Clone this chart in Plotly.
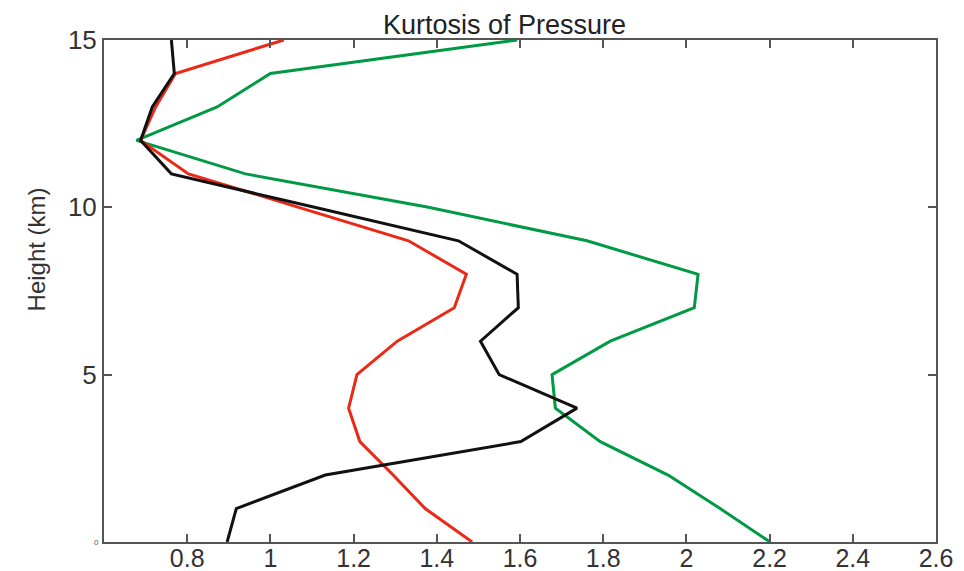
import plotly.graph_objects as go

# Height levels (km) and kurtosis profiles for the three runs
height_km = [0, 1, 2, 3, 4, 5, 6, 7, 8, 9, 10, 11, 12, 13, 14, 15]

kurt_black = [0.896, 0.918, 1.132, 1.602, 1.737, 1.550, 1.505, 1.596,
              1.593, 1.452, 1.106, 0.762, 0.688, 0.716, 0.769, 0.762]
kurt_red = [1.485, 1.372, 1.295, 1.215, 1.188, 1.208, 1.305, 1.442,
            1.471, 1.332, 1.068, 0.803, 0.688, 0.724, 0.772, 1.032]
kurt_green = [2.201, 2.081, 1.956, 1.793, 1.685, 1.677, 1.817, 2.019,
              2.028, 1.761, 1.380, 0.940, 0.678, 0.872, 1.000, 1.593]

x_tick_vals = [0.8, 1.0, 1.2, 1.4, 1.6, 1.8, 2.0, 2.2, 2.4, 2.6]
x_tick_text = ["0.8", "1", "1.2", "1.4", "1.6", "1.8", "2", "2.2", "2.4", "2.6"]
y_tick_vals = [5, 10, 15]
y_tick_text = ["5", "10", "15"]

FONT = "Liberation Sans, Arial, sans-serif"
AXIS_COLOR = "#555555"

fig = go.Figure()
for xs, color in [(kurt_green, "#009a44"), (kurt_red, "#ea2a16"), (kurt_black, "#111111")]:
    fig.add_trace(go.Scatter(
        x=xs, y=height_km, mode="lines",
        line=dict(color=color, width=3),
        showlegend=False, hoverinfo="skip",
    ))

fig.update_layout(
    width=964, height=571,
    margin=dict(l=104, r=28, t=40, b=29),
    paper_bgcolor="white", plot_bgcolor="white",
    font=dict(family=FONT, color="#333333"),
    xaxis=dict(
        range=[0.6, 2.6], tickvals=x_tick_vals, ticktext=x_tick_text,
        showgrid=False, zeroline=False, automargin=False,
        showline=True, linecolor=AXIS_COLOR, linewidth=2, mirror="ticks",
        ticks="inside", ticklen=8, tickwidth=1.5, tickcolor=AXIS_COLOR,
        tickfont=dict(size=25, color="#333333"), ticklabelstandoff=-7,
    ),
    yaxis=dict(
        range=[0, 15], tickvals=y_tick_vals, ticktext=y_tick_text,
        showgrid=False, zeroline=False, automargin=False,
        showline=True, linecolor=AXIS_COLOR, linewidth=2, mirror="ticks",
        ticks="inside", ticklen=8, tickwidth=1.5, tickcolor=AXIS_COLOR,
        tickfont=dict(size=26, color="#333333"),
    ),
)

# Title
fig.add_annotation(
    text="Kurtosis of Pressure", xref="paper", yref="paper",
    x=0.481, y=1.03, xanchor="center", yanchor="middle",
    showarrow=False, font=dict(size=27, color="#222222", family=FONT),
)

# Vertical axis label
fig.add_annotation(
    text="Height (km)", xref="paper", yref="paper",
    x=-0.081, y=0.582, xanchor="center", yanchor="middle", textangle=-90,
    showarrow=False, font=dict(size=24, color="#333333", family=FONT),
)

# Small zero label at the origin
fig.add_annotation(
    text="0", xref="paper", yref="y", x=-0.004, y=0,
    xanchor="right", yanchor="middle", showarrow=False,
    font=dict(size=8, color="#555555", family=FONT),
)

fig.write_html("out.html")
